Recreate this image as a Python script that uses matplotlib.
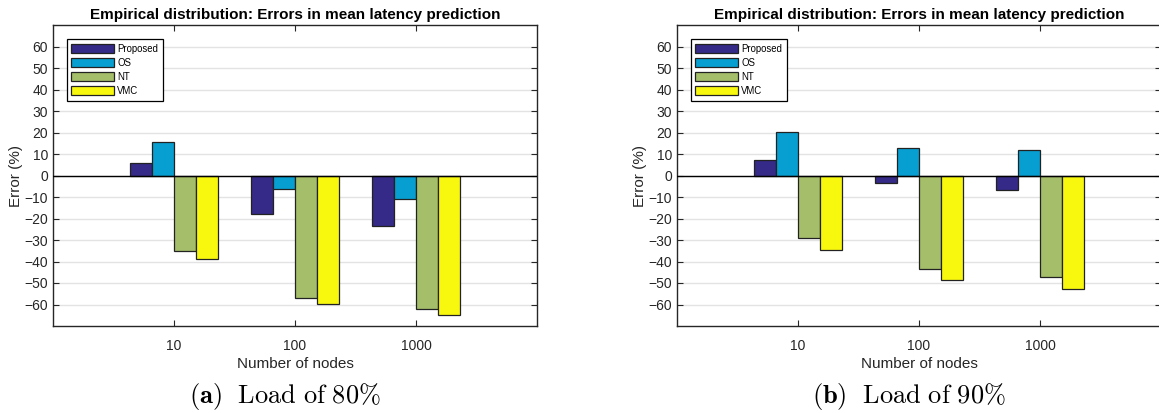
import numpy as np
import matplotlib
matplotlib.use("Agg")
import matplotlib.pyplot as plt

plt.rcParams['font.family'] = ['Liberation Sans', 'DejaVu Sans']
plt.rcParams['mathtext.fontset'] = 'cm'

nodes = ["10", "100", "1000"]
methods = ["Proposed", "OS", "NT", "VMC"]
colors = ["#352a87", "#079fd1", "#a5be6a", "#f8f80f"]

# errors (%), one list per method
err80 = {
    "Proposed": [5.8, -17.9, -23.6],
    "OS": [15.7, -6.5, -11.0],
    "NT": [-35.3, -57.0, -62.3],
    "VMC": [-38.8, -59.8, -65.1],
}
err90 = {
    "Proposed": [7.1, -3.7, -6.8],
    "OS": [20.4, 12.9, 12.0],
    "NT": [-29.1, -43.4, -47.2],
    "VMC": [-34.7, -48.6, -52.7],
}
captions = [r"$\mathbf{(a)}\ \ \mathrm{Load\ of\ 80\%}$",
            r"$\mathbf{(b)}\ \ \mathrm{Load\ of\ 90\%}$"]

W, H = 1159, 413
fig = plt.figure(figsize=(W / 100, H / 100), dpi=100)

axc = "#262626"
x = np.arange(1, len(nodes) + 1)
bw = 0.182

def draw(ax, data):
    for i, m in enumerate(methods):
        ax.bar(x + (i - 1.5) * bw, data[m], width=bw, color=colors[i],
               edgecolor="#222222", linewidth=0.9, label=m, zorder=3)
    ax.axhline(0, color="black", lw=1.0, zorder=4)
    ax.set_xlim(0, 4)
    ax.set_ylim(-70, 70)
    ax.set_xticks(x)
    ax.set_xticklabels(nodes)
    ax.set_yticks(np.arange(-60, 61, 10))
    ax.yaxis.grid(True, color="#e3e3e3", lw=1.0, zorder=0)
    ax.set_axisbelow(True)
    ax.tick_params(direction="in", length=4, width=0.8, colors=axc,
                   labelsize=10, top=True, right=True)
    ax.tick_params(axis="x", pad=9)
    for s in ax.spines.values():
        s.set_color(axc)
        s.set_linewidth(1.0)
    ax.set_title("Empirical distribution: Errors in mean latency prediction",
                 fontsize=11, fontweight="bold", pad=4)
    ax.set_xlabel("Number of nodes", fontsize=11, color=axc, labelpad=3.5)
    ax.set_ylabel("Error (%)", fontsize=11, color=axc, labelpad=1)
    leg = ax.legend(loc="upper left", bbox_to_anchor=(0.028, 0.953),
                    borderaxespad=0, fontsize=6.9, handlelength=4.5,
                    handleheight=1.0, labelspacing=0.42, handletextpad=0.3,
                    borderpad=0.5, fancybox=False, framealpha=1)
    leg.get_frame().set_edgecolor("black")
    leg.get_frame().set_linewidth(0.9)

bottom = (H - 326) / H
height = 301 / H
lefts = [53, 677]
datas = [err80, err90]
for k in range(2):
    ax = fig.add_axes([lefts[k] / W, bottom, 484 / W, height])
    draw(ax, datas[k])
    fig.text((lefts[k] + 232) / W, 1 - 396 / H, captions[k], ha="center",
             va="center", fontsize=19)

fig.savefig("out.png", dpi=100)
